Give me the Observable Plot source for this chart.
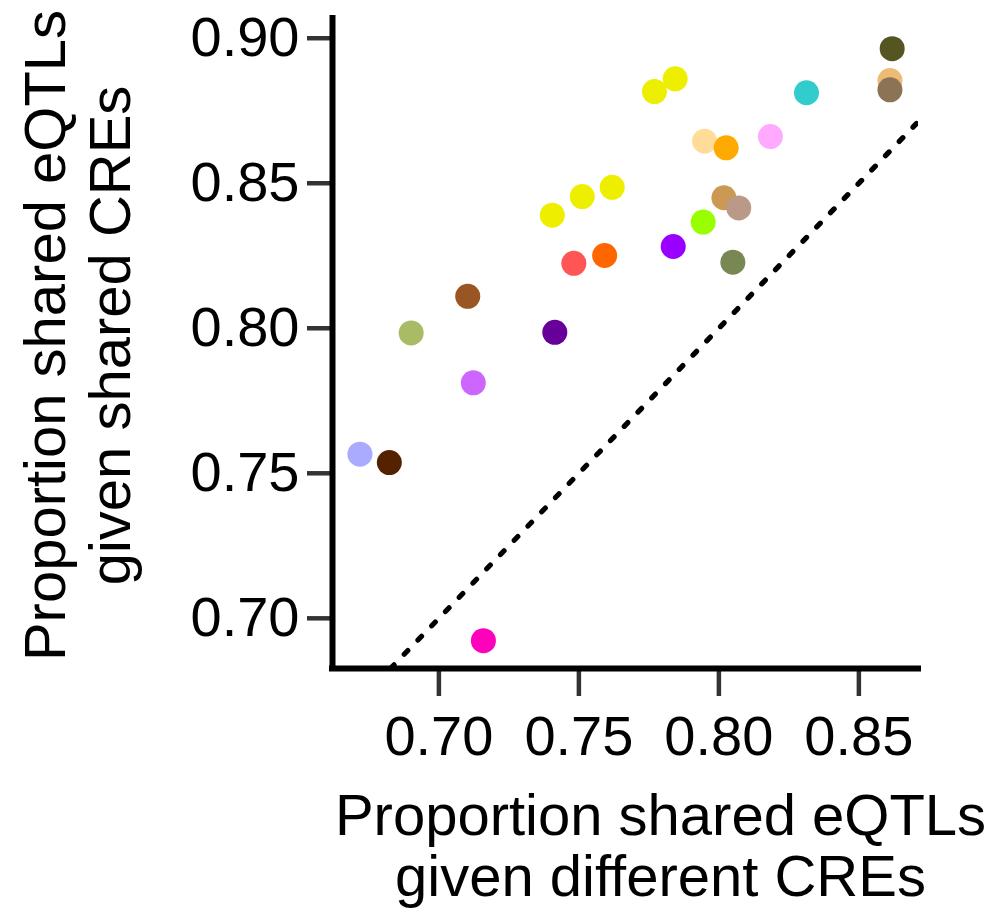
<!DOCTYPE html>
<html>
<head>
<meta charset="utf-8">
<script src="https://cdn.jsdelivr.net/npm/d3@7"></script>
<script src="https://cdn.jsdelivr.net/npm/@observablehq/plot@0.6"></script>
<style>
  html, body { margin: 0; padding: 0; background: #fff; }
  #chart svg { display: block; }
</style>
</head>
<body>
<div id="chart"></div>
<script>
// Categories (GTEx-style tissue colours), in drawing order
const tissues = [
  "Liver", "Heart LV", "LCL", "Muscle", "Esophagus mucosa", "Whole blood",
  "Pancreas", "Brain 1", "Brain 2", "Brain 3", "Brain 4", "Brain 5",
  "Artery aorta", "Adipose subcutaneous", "Breast", "Small intestine",
  "Colon sigmoid", "Esophagus GEJ", "Stomach", "Adipose visceral", "Ovary",
  "Colon transverse", "Esophagus muscularis", "Lung", "Heart atrial", "Spleen"
];
// Proportion shared eQTLs given different CREs
const xValues = [
  0.6901, 0.7414, 0.7123, 0.6718, 0.6823, 0.7159,
  0.7103, 0.7405, 0.7512, 0.7619, 0.7770, 0.7844,
  0.7482, 0.7592, 0.8313, 0.8619,
  0.8611, 0.8611, 0.7949, 0.8026, 0.8184,
  0.8018, 0.8071, 0.7944, 0.7837, 0.8050
];
// Proportion shared eQTLs given shared CREs
const yValues = [
  0.7984, 0.7986, 0.7812, 0.7566, 0.7537, 0.6923,
  0.8110, 0.8390, 0.8454, 0.8486, 0.8816, 0.8860,
  0.8224, 0.8251, 0.8812, 0.8964,
  0.8854, 0.8822, 0.8645, 0.8622, 0.8661,
  0.8450, 0.8415, 0.8366, 0.8282, 0.8228
];
const colors = [
  "#AABB66", "#660099", "#CC66FF", "#AAAAFF", "#552200", "#FF00BB",
  "#995522", "#EEEE00", "#EEEE00", "#EEEE00", "#EEEE00", "#EEEE00",
  "#FF5555", "#FF6600", "#33CCCC", "#555522",
  "#EEBB77", "#8B7355", "#FFDD99", "#FFAA00", "#FFAAFF",
  "#CC9955", "#BB9988", "#99FF00", "#9900FF", "#778855"
];
const xTicks = [0.70, 0.75, 0.80, 0.85];
const yTicks = [0.70, 0.75, 0.80, 0.85, 0.90];
const xDomain = [0.6620, 0.8713];
const yDomain = [0.6827, 0.9068];
const xLabel = ["Proportion shared eQTLs", "given different CREs"];
const yLabel = ["Proportion shared eQTLs", "given shared CREs"];

const points = tissues.map((t, i) => ({tissue: t, x: xValues[i], y: yValues[i], color: colors[i]}));
// identity line y = x across the visible range
const diag = [Math.max(xDomain[0], yDomain[0]), Math.min(xDomain[1], yDomain[1])];

const font = "'Liberation Sans', Arial, Helvetica, sans-serif";

const chart = Plot.plot({
  width: 998,
  height: 911,
  marginLeft: 332,
  marginRight: 80,
  marginTop: 18,
  marginBottom: 243,
  x: {domain: xDomain},
  y: {domain: yDomain},
  color: {type: "identity"},
  style: {fontFamily: font, background: "#fff", overflow: "visible", color: "#000"},
  marks: [
    Plot.line(diag, {x: d => d, y: d => d, stroke: "#000", strokeWidth: 5.2, strokeDasharray: "5.2,14.6", clip: true}),
    Plot.dot(points, {x: "x", y: "y", r: 12.5, fill: "color", stroke: "none"}),
    Plot.axisX({ticks: xTicks, tickSize: 28, tickPadding: 19, tickFormat: d3.format(".2f"),
      fontSize: 56, stroke: "#333", strokeWidth: 4.5, label: null}),
    Plot.axisY({ticks: yTicks, tickSize: 25, tickPadding: 8, tickFormat: d3.format(".2f"),
      fontSize: 56, stroke: "#333", strokeWidth: 4.5, label: null}),
    Plot.ruleY([yDomain[0]], {stroke: "#000", strokeWidth: 6, strokeLinecap: "square"}),
    Plot.ruleX([xDomain[0]], {stroke: "#000", strokeWidth: 6, strokeLinecap: "square"}),
    Plot.text([xLabel.join("\n")], {frameAnchor: "bottom", textAnchor: "middle", lineAnchor: "top",
      dx: 35, dy: 124, fontSize: 58, lineHeight: 1.04, fill: "#000"}),
    Plot.text([yLabel.join("\n")], {frameAnchor: "left", rotate: -90, textAnchor: "middle", lineAnchor: "top",
      dx: -314, dy: -8, fontSize: 58, lineHeight: 1.12, fill: "#000"})
  ]
});
document.getElementById("chart").appendChild(chart);
</script>
</body>
</html>
